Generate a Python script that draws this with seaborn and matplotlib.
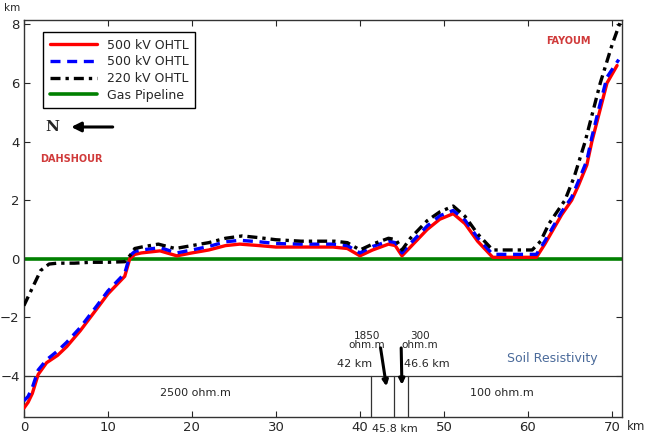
import numpy as np
import pandas as pd
import matplotlib
matplotlib.use("Agg")
import matplotlib.pyplot as plt
import seaborn as sns

# route profiles (km along route, km offset)
x_red = [0, 0.5, 1, 1.7, 2.7, 4, 5.1, 6.7, 8.7, 10, 11, 12, 12.6, 13.2, 14, 16.2, 18.2, 20, 22, 24,
         25.7, 28, 30, 32.9, 36.8, 38.5, 40, 41.5, 43.4, 44.2, 45, 46, 48, 49.5, 51.1, 52.5, 54, 55.8,
         58, 61, 62, 63, 64, 65.2, 66, 67, 67.6, 68.5, 69.4, 70.6]
y_red = [-5.1, -4.9, -4.6, -3.95, -3.55, -3.3, -3.0, -2.46, -1.7, -1.2, -0.9, -0.6, 0.0, 0.15, 0.2, 0.27,
         0.1, 0.2, 0.3, 0.45, 0.5, 0.45, 0.4, 0.4, 0.4, 0.35, 0.1, 0.3, 0.5, 0.45, 0.1, 0.4, 1.0, 1.35,
         1.54, 1.2, 0.6, 0.05, 0.05, 0.05, 0.5, 1.0, 1.5, 2.0, 2.5, 3.2, 4.0, 5.0, 6.0, 6.6]

x_blue = [0, 0.5, 1, 1.7, 2.7, 4, 5.1, 6.7, 8.7, 10, 11, 12, 12.6, 13.2, 14, 16.2, 18.2, 20, 22, 24,
          25.7, 28, 30, 32.9, 36.8, 38.5, 40, 41.5, 43.4, 44.2, 45, 46, 48, 49.5, 51.1, 52.5, 54, 55.8,
          58, 61, 62, 63, 64, 65.2, 66, 67, 67.6, 68.5, 69.4, 70.8]
y_blue = [-4.85, -4.7, -4.4, -3.8, -3.45, -3.15, -2.85, -2.35, -1.6, -1.1, -0.8, -0.5, 0.1, 0.25, 0.3, 0.38,
          0.2, 0.3, 0.42, 0.58, 0.63, 0.58, 0.52, 0.5, 0.5, 0.45, 0.2, 0.42, 0.6, 0.55, 0.2, 0.52, 1.12, 1.47,
          1.65, 1.32, 0.72, 0.15, 0.15, 0.15, 0.6, 1.1, 1.6, 2.1, 2.65, 3.35, 4.15, 5.2, 6.2, 6.8]

x_blk = [0, 1, 2, 3, 4, 6, 8, 10, 12, 12.6, 13.2, 14, 16, 18, 20, 22, 24, 26, 28, 30, 33, 37, 38.5,
         40, 41.5, 43.4, 44.3, 45, 46, 48, 49.5, 51.1, 52.5, 54, 55.8, 58, 60.5, 61.5, 62.5, 64.4,
         65.5, 66.8, 68.6, 70, 71]
y_blk = [-1.6, -1.0, -0.4, -0.18, -0.15, -0.15, -0.12, -0.12, -0.1, 0.1, 0.35, 0.4, 0.5, 0.35, 0.45, 0.55,
         0.7, 0.78, 0.72, 0.65, 0.6, 0.6, 0.55, 0.3, 0.5, 0.7, 0.65, 0.3, 0.7, 1.3, 1.6, 1.8, 1.45, 0.85,
         0.3, 0.3, 0.3, 0.6, 1.2, 2.0, 2.8, 4.0, 6.0, 7.3, 8.1]

x_gas = [0, 71.2]
y_gas = [0, 0]

# soil resistivity zones
soil_level = -4
soil_bounds = [41.3, 44.0, 45.7]
soil_bound_labels = ["42 km", "45.8 km", "46.6 km"]
soil_values = ["2500 ohm.m", "1850\nohm.m", "300\nohm.m", "100 ohm.m"]

sns.set_style("ticks")
plt.rcParams["font.family"] = ["DejaVu Sans"]

fig = plt.figure(figsize=(6.46, 4.37), dpi=100)
ax = fig.add_axes([0.037, 0.046, 0.926, 0.908])

sns.lineplot(x=x_gas, y=y_gas, ax=ax, color="#008000", lw=2.6, label="Gas Pipeline", zorder=2)
sns.lineplot(x=x_red, y=y_red, ax=ax, color="red", lw=2.4, label="500 kV OHTL", zorder=3, sort=False)
sns.lineplot(x=x_blue, y=y_blue, ax=ax, color="blue", lw=2.4, linestyle=(0, (3, 2)),
             label="500 kV OHTL", zorder=4, sort=False)
sns.lineplot(x=x_blk, y=y_blk, ax=ax, color="black", lw=2.4, linestyle=(0, (3, 1.5, 1, 1.5)),
             label="220 kV OHTL", zorder=5, sort=False)

ax.set_xlim(0, 71.2)
ax.set_ylim(-5.4, 8.15)
ax.set_xticks(range(0, 71, 10))
ax.set_yticks(range(-4, 9, 2))
ax.tick_params(direction="in", top=True, right=True, labelsize=9.5, length=4, pad=3)
for s in ax.spines.values():
    s.set_linewidth(1.0)
    s.set_color("#333333")

handles, labels = ax.get_legend_handles_labels()
order = [1, 2, 3, 0]
leg = ax.legend([handles[i] for i in order], [labels[i] for i in order], loc="upper left",
                bbox_to_anchor=(0.022, 0.985), fontsize=9, handlelength=3.8, fancybox=False,
                framealpha=1, edgecolor="black", borderpad=0.5, labelspacing=0.3)
leg.get_frame().set_linewidth(1.0)

# soil resistivity strip
ax.axhline(soil_level, color="#333333", lw=0.9, zorder=1)
for b in soil_bounds:
    ax.plot([b, b], [-5.4, soil_level], color="#333333", lw=0.9)
ax.text(20.4, -4.6, soil_values[0], fontsize=8, ha="center", va="center")
ax.text(56.9, -4.6, soil_values[3], fontsize=8, ha="center", va="center")
ax.text(40.8, -2.8, soil_values[1], fontsize=7.5, ha="center", va="center", linespacing=0.85)
ax.text(47.1, -2.8, soil_values[2], fontsize=7.5, ha="center", va="center", linespacing=0.85)
ax.text(39.4, -3.6, soil_bound_labels[0], fontsize=8, ha="center", va="center")
ax.text(48.0, -3.6, soil_bound_labels[2], fontsize=8, ha="center", va="center")
ax.text(44.2, -5.83, soil_bound_labels[1], fontsize=8, ha="center", va="center", clip_on=False)
ax.text(62.9, -3.4, "Soil Resistivity", fontsize=9, color="#4a6a9a", ha="center", va="center")
ax.annotate("", xy=(43.2, -4.45), xytext=(42.4, -2.95),
            arrowprops=dict(arrowstyle="-|>", color="black", lw=2.2, mutation_scale=8))
ax.annotate("", xy=(45.0, -4.4), xytext=(44.9, -2.95),
            arrowprops=dict(arrowstyle="-|>", color="black", lw=2.2, mutation_scale=8))

# direction and place names
ax.text(3.4, 4.5, "N", fontsize=11, fontweight="bold", family="DejaVu Serif", ha="center", va="center")
ax.annotate("", xy=(5.3, 4.5), xytext=(10.9, 4.5),
            arrowprops=dict(arrowstyle="-|>", color="black", lw=2.2, mutation_scale=14))
ax.text(5.7, 3.4, "DAHSHOUR", fontsize=7, color="#d03a3a", fontweight="bold", ha="center", va="center")
ax.text(64.8, 7.45, "FAYOUM", fontsize=7, color="#d03a3a", fontweight="bold", ha="center", va="center")

ax.set_xlabel("")
ax.set_ylabel("")
fig.text(12 / 646, 1 - 8 / 437, "km", fontsize=7.5, ha="center", va="center")
fig.text(636 / 646, 1 - 427 / 437, "km", fontsize=8.5, ha="center", va="center")

fig.savefig("out.png", dpi=100)
